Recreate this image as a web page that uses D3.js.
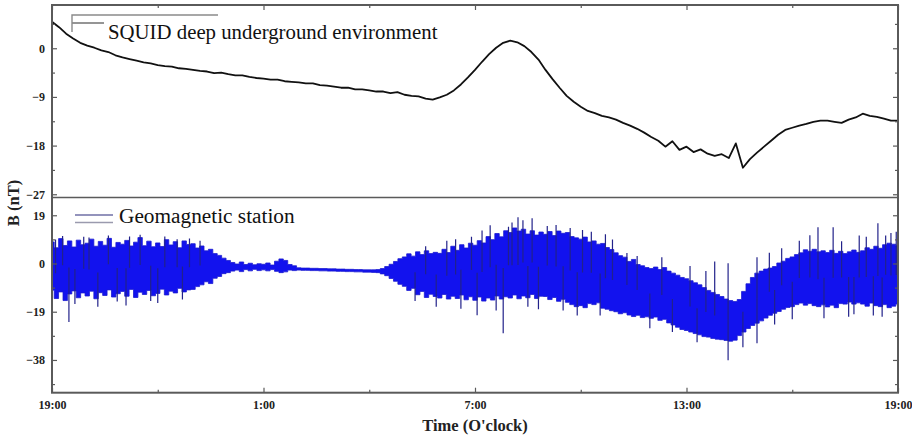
<!DOCTYPE html>
<html>
<head>
<meta charset="utf-8">
<script src="https://cdn.jsdelivr.net/npm/d3@7"></script>
<style>
  body { margin: 0; background: #fff; }
  svg { display: block; }
</style>
</head>
<body>
<svg id="chart" width="912" height="435"></svg>
<script>
// Time axis: hours elapsed since 19:00, spanning one full day
const timeTicks = [0, 6, 12, 18, 24];
const timeLabels = ["19:00", "1:00", "7:00", "13:00", "19:00"];

// Panel tick values (nT)
const squidTicks = [0, -9, -18, -27];
const geoTicks = [19, 0, -19, -38];

// SQUID record in the deep underground lab, one sample every 0.2 h (nT)
const squidStep = 0.2;
const squidValues = [
  4.9, 3.9, 2.7, 1.8, 1.0, 0.5, 0.1, -0.4, -0.7, -1.3,
  -1.7, -2.0, -2.3, -2.6, -2.8, -3.1, -3.3, -3.4, -3.7, -3.8,
  -4.0, -4.2, -4.3, -4.6, -4.5, -4.8, -5.0, -5.0, -5.3, -5.5,
  -5.6, -5.8, -5.8, -6.1, -6.2, -6.3, -6.5, -6.5, -6.8, -6.9,
  -7.1, -7.3, -7.3, -7.6, -7.6, -7.8, -8.0, -8.0, -8.3, -8.1,
  -8.6, -8.8, -8.9, -9.3, -9.5, -9.1, -8.6, -7.8, -6.7, -5.4,
  -4.0, -2.5, -1.1, 0.1, 1.0, 1.4, 1.1, 0.4, -0.7, -2.1,
  -4.0, -5.7, -7.3, -8.8, -9.9, -10.8, -11.6, -12.0, -12.5, -12.8,
  -13.2, -13.8, -14.3, -14.9, -15.6, -16.4, -17.1, -18.2, -17.2, -18.8,
  -18.2, -19.2, -18.7, -19.5, -19.9, -19.6, -20.3, -17.6, -22.1, -20.5,
  -19.3, -18.2, -17.1, -16.0, -15.1, -14.7, -14.3, -14.0, -13.6, -13.4,
  -13.4, -13.6, -13.8, -13.2, -12.8, -12.1, -12.5, -12.7, -13.0, -13.4,
  -13.4
];

// Geomagnetic station record: upper / lower envelope per 0.125 h bin (nT)
const geoStep = 0.125;
const geoHigh = [
  8.5, 6.2, 9.8, 7.1, 8.9, 6.5, 9.2, 7.4,
  8.0, 9.6, 6.8, 8.7, 7.2, 9.9, 6.4, 8.3,
  7.6, 9.1, 6.9, 8.4, 10.2, 7.0, 8.8, 6.6,
  8.1, 6.7, 9.4, 7.3, 8.6, 6.2, 8.9, 7.5,
  7.8, 6.1, 6.9, 5.0, 5.6, 3.9, 3.2, 2.1,
  1.2, 0.4, -0.2, 0.6, -0.4, 0.1, -0.5, -0.1,
  -0.3, 0.2, -0.6, 0.9, 1.8, 1.2, -0.4, -0.9,
  -1.7, -1.8, -1.8, -1.9, -1.9, -2.0, -2.0, -2.1,
  -2.1, -2.2, -2.2, -2.3, -2.3, -2.4, -2.4, -2.5,
  -2.5, -2.5, -2.4, -2.0, -1.2, -0.3, 0.8, 1.9,
  2.6, 3.8, 2.9, 4.6, 3.5, 5.0, 3.9, 4.4,
  4.0, 5.6, 4.3, 6.8, 5.2, 7.4, 6.1, 8.0,
  7.2, 9.0, 8.1, 10.6, 9.4, 11.8, 10.5, 12.9,
  12.2, 14.0, 12.8, 13.5, 11.6, 12.9, 11.2, 12.4,
  11.5, 12.6, 11.0, 12.8, 11.9, 12.2, 10.6, 10.1,
  9.6, 10.4, 8.5, 8.9, 7.6, 7.9, 6.3, 5.5,
  4.2, 3.1, 2.5, 0.8, 1.6, -0.4, -0.9, -1.6,
  -2.0, -1.4, -2.4, -1.6, -3.0, -3.8, -4.6, -5.5,
  -6.0, -6.8, -7.6, -8.4, -9.5, -10.6, -11.4, -12.2,
  -13.0, -14.0, -14.6, -15.0, -14.2, -11.0, -8.0, -5.5,
  -3.8, -3.0, -2.2, -1.8, -1.2, 0.2, 0.9, 2.0,
  2.6, 3.5, 4.2, 5.4, 4.8, 5.6, 4.6, 5.0,
  4.3, 5.2, 4.0, 4.8, 3.9, 4.6, 5.3, 4.4,
  5.0, 6.2, 5.6, 6.8, 6.0, 7.4, 8.0, 7.6,
  7.0
];
const geoLow = [
  -10.5, -13.8, -11.2, -14.6, -12.0, -10.8, -13.5, -11.6,
  -12.8, -10.9, -13.9, -11.5, -12.6, -10.4, -13.2, -11.9,
  -11.0, -12.9, -10.2, -13.4, -11.3, -12.2, -10.6, -12.7,
  -11.8, -10.1, -12.4, -10.9, -11.6, -9.8, -11.2, -10.4,
  -10.2, -9.1, -8.4, -7.2, -7.9, -5.8, -5.1, -4.0,
  -3.6, -3.0, -2.6, -3.2, -2.4, -2.9, -2.3, -2.8,
  -2.5, -2.9, -2.4, -3.1, -3.6, -3.3, -2.6, -2.8,
  -2.6, -2.7, -2.7, -2.8, -2.8, -2.9, -2.9, -3.0,
  -3.0, -3.1, -3.1, -3.2, -3.2, -3.3, -3.3, -3.4,
  -3.4, -3.5, -3.6, -4.1, -4.8, -5.9, -7.0, -8.2,
  -9.0, -10.6, -9.8, -12.3, -11.0, -13.4, -12.1, -13.0,
  -13.6, -12.2, -14.0, -12.9, -13.8, -12.4, -14.3, -13.1,
  -14.5, -13.2, -14.8, -13.6, -14.4, -12.8, -14.0, -13.1,
  -13.6, -12.4, -13.9, -12.8, -13.5, -12.2, -13.8, -12.9,
  -13.0, -14.2, -13.4, -14.9, -14.1, -15.3, -16.2, -17.0,
  -16.6, -17.4, -15.8, -16.2, -15.5, -17.6, -18.0, -18.6,
  -19.0, -19.8, -19.4, -20.3, -20.9, -20.4, -21.3, -21.0,
  -21.6, -21.1, -22.4, -22.0, -23.4, -24.2, -25.1, -26.0,
  -26.4, -27.0, -27.6, -28.1, -28.8, -29.0, -29.5, -29.8,
  -30.0, -30.3, -30.6, -30.2, -28.4, -27.0, -25.6, -24.4,
  -23.5, -22.6, -21.5, -20.4, -19.6, -18.9, -18.0, -17.3,
  -17.0, -16.2, -15.6, -16.4, -15.8, -16.6, -17.0, -16.3,
  -17.1, -16.4, -17.4, -15.8, -16.0, -15.2, -16.0, -15.5,
  -16.0, -16.8, -15.6, -16.6, -17.0, -16.2, -17.4, -16.8,
  -16.0
];

// Isolated excursions of the station record: [hour, peak value nT]
const geoSpikes = [
  [0.1, 9.5], [0.3, 10.8], [0.48, -23.0], [0.65, -16.0], [0.9, 10.5],
  [1.05, 10.2], [1.3, -17.0], [1.6, 11.0], [1.85, -15.0], [2.1, -16.5],
  [2.2, 10.6], [2.5, 11.3], [2.8, -14.8], [3.0, -15.6], [3.2, 10.6],
  [3.55, 9.6], [3.7, -14.2], [3.9, 9.8], [4.2, 9.0],
  [10.3, -14.8], [10.6, 6.8], [10.9, -17.0], [11.2, 9.0], [11.45, 9.6],
  [11.6, -17.8], [11.9, 10.5], [12.06, -20.4], [12.2, 13.0], [12.43, 15.1],
  [12.6, -18.5], [12.8, -27.5], [12.95, 14.5], [13.05, 16.2], [13.22, 18.2],
  [13.36, 17.0], [13.5, -17.0], [13.62, 17.8], [13.8, -18.0], [14.05, 14.8],
  [14.3, 15.2], [14.5, -18.5], [14.7, 14.0], [14.9, -20.5], [15.05, 13.2],
  [15.3, 12.5], [15.55, -20.5], [15.7, 11.5], [15.9, 9.5], [16.31, 4.1],
  [16.6, 3.0], [16.96, -25.5], [17.3, 2.5], [17.6, -27.0], [18.1, -1.0],
  [18.3, -31.0], [18.55, -3.0], [18.8, 0.8], [19.18, 0.1], [19.18, -38.1],
  [19.6, -33.0], [20.0, 2.5], [20.0, -31.4], [20.35, 4.2], [20.5, -24.0],
  [20.7, 6.0], [21.0, -22.0], [21.2, 9.0], [21.5, 11.1], [21.73, 14.3],
  [21.9, -21.6], [22.16, 14.3], [22.4, 8.8], [22.6, -21.0], [22.75, -20.0],
  [22.9, 11.0], [23.1, 10.5], [23.3, -20.5], [23.43, 15.9], [23.55, -21.0],
  [23.65, 11.0], [23.8, 12.0], [23.95, 12.5]
];

const squidLabel = "SQUID deep underground environment";
const geoLabel = "Geomagnetic station";

// ---------------------------------------------------------------------------
const svg = d3.select("#chart");
const left = 52, right = 898;
const topPanel = { top: 5, bottom: 197.5 };
const botPanel = { top: 197.5, bottom: 392.7 };
const frameColor = "#5a5a5a";
const serif = "'Liberation Serif', 'Times New Roman', serif";

const x = d3.scaleLinear().domain([0, 24]).range([left, right]);
const ySquid = d3.scaleLinear().domain([-27.6, 8]).range([topPanel.bottom, topPanel.top]);
const yGeo = d3.scaleLinear().domain([-50.9, 26]).range([botPanel.bottom, botPanel.top]);

svg.append("rect").attr("width", 912).attr("height", 435).attr("fill", "#fff");

// clip paths for the two panels
const defs = svg.append("defs");
defs.append("clipPath").attr("id", "clipTop").append("rect")
  .attr("x", left).attr("y", topPanel.top)
  .attr("width", right - left).attr("height", topPanel.bottom - topPanel.top);
defs.append("clipPath").attr("id", "clipBot").append("rect")
  .attr("x", left).attr("y", botPanel.top)
  .attr("width", right - left).attr("height", botPanel.bottom - botPanel.top);

// ---- Geomagnetic station band ----
const geoBins = geoHigh.map((h, i) => ({ t: i * geoStep, hi: h, lo: geoLow[i] }));
const gBot = svg.append("g").attr("clip-path", "url(#clipBot)");

gBot.append("path")
  .datum(geoBins)
  .attr("d", d3.area()
    .curve(d3.curveStep)
    .x(d => x(d.t))
    .y0(d => yGeo(d.lo))
    .y1(d => yGeo(d.hi)))
  .attr("fill", "#1212ee")
  .attr("stroke", "#1a1ad0")
  .attr("stroke-width", 0.8);

gBot.selectAll("line.spike")
  .data(geoSpikes)
  .join("line")
  .attr("class", "spike")
  .attr("x1", d => x(d[0]))
  .attr("x2", d => x(d[0]))
  .attr("y1", d => {
    const b = geoBins[Math.round(d[0] / geoStep)];
    return yGeo((b.hi + b.lo) / 2);
  })
  .attr("y2", d => yGeo(d[1]))
  .attr("stroke", "#22228a")
  .attr("stroke-width", 1.2);

// ---- SQUID trace ----
const squidPts = squidValues.map((v, i) => ({ t: i * squidStep, v }));
svg.append("g").attr("clip-path", "url(#clipTop)")
  .append("path")
  .datum(squidPts)
  .attr("d", d3.line().x(d => x(d.t)).y(d => ySquid(d.v)))
  .attr("fill", "none")
  .attr("stroke", "#111")
  .attr("stroke-width", 1.8)
  .attr("stroke-linejoin", "round");

// ---- Axes ----
function styleAxis(g) {
  g.select(".domain").remove();
  g.selectAll(".tick line").attr("stroke", frameColor).attr("stroke-width", 1.2);
  g.selectAll(".tick text")
    .attr("font-family", serif)
    .attr("font-weight", "bold")
    .attr("font-size", 12)
    .attr("fill", "#222");
}
const minor = (vals) => {
  const out = [];
  for (let i = 0; i < vals.length - 1; i++) out.push((vals[i] + vals[i + 1]) / 2);
  return out;
};
const squidMinor = minor(squidTicks).concat([4.5]);
const geoMinor = minor(geoTicks).concat([-47.5]);
const timeMinor = minor(timeTicks);

// left axes with labels
svg.append("g").attr("transform", `translate(${left},0)`)
  .call(d3.axisLeft(ySquid).tickValues(squidTicks).tickSize(-5).tickPadding(7))
  .call(styleAxis);
svg.append("g").attr("transform", `translate(${left},0)`)
  .call(d3.axisLeft(yGeo).tickValues(geoTicks).tickSize(-5).tickPadding(7))
  .call(styleAxis);
// minor left ticks
svg.append("g").attr("transform", `translate(${left},0)`)
  .call(d3.axisLeft(ySquid).tickValues(squidMinor).tickSize(-3).tickFormat(""))
  .call(styleAxis);
svg.append("g").attr("transform", `translate(${left},0)`)
  .call(d3.axisLeft(yGeo).tickValues(geoMinor).tickSize(-3).tickFormat(""))
  .call(styleAxis);
// right ticks
[[ySquid, squidTicks, 5], [ySquid, squidMinor, 3], [yGeo, geoTicks, 5], [yGeo, geoMinor, 3]]
  .forEach(([sc, vals, len]) => {
    svg.append("g").attr("transform", `translate(${right},0)`)
      .call(d3.axisRight(sc).tickValues(vals).tickSize(-len).tickFormat(""))
      .call(styleAxis);
  });

// bottom time axis
svg.append("g").attr("transform", `translate(0,${botPanel.bottom})`)
  .call(d3.axisBottom(x).tickValues(timeTicks).tickSize(-5).tickPadding(8)
    .tickFormat((d, i) => timeLabels[i]))
  .call(styleAxis);
svg.append("g").attr("transform", `translate(0,${botPanel.bottom})`)
  .call(d3.axisBottom(x).tickValues(timeMinor).tickSize(-3).tickFormat(""))
  .call(styleAxis);
// top ticks
svg.append("g").attr("transform", `translate(0,${topPanel.top})`)
  .call(d3.axisTop(x).tickValues(timeTicks).tickSize(-5).tickFormat(""))
  .call(styleAxis);
svg.append("g").attr("transform", `translate(0,${topPanel.top})`)
  .call(d3.axisTop(x).tickValues(timeMinor).tickSize(-3).tickFormat(""))
  .call(styleAxis);

// frames
svg.append("rect")
  .attr("x", left).attr("y", topPanel.top)
  .attr("width", right - left).attr("height", botPanel.bottom - topPanel.top)
  .attr("fill", "none").attr("stroke", frameColor).attr("stroke-width", 2);
svg.append("line")
  .attr("x1", left).attr("x2", right)
  .attr("y1", topPanel.bottom).attr("y2", topPanel.bottom)
  .attr("stroke", frameColor).attr("stroke-width", 1.6);

// axis titles
svg.append("text")
  .attr("x", (left + right) / 2).attr("y", 431)
  .attr("text-anchor", "middle")
  .attr("font-family", serif).attr("font-weight", "bold").attr("font-size", 16.5)
  .attr("fill", "#222")
  .text("Time (O'clock)");
svg.append("text")
  .attr("transform", "translate(19,203) rotate(-90)")
  .attr("text-anchor", "middle")
  .attr("font-family", serif).attr("font-weight", "bold").attr("font-size", 16.5)
  .attr("fill", "#222")
  .text("B (nT)");

// ---- Legends ----
const lg1 = svg.append("g");
lg1.append("path")
  .attr("d", "M218,15 H72 V32")
  .attr("fill", "none").attr("stroke", "#8a8a8a").attr("stroke-width", 1.4);
lg1.append("line")
  .attr("x1", 72).attr("x2", 104).attr("y1", 23).attr("y2", 23)
  .attr("stroke", "#8a8a8a").attr("stroke-width", 1.8);
lg1.append("text")
  .attr("x", 108).attr("y", 38.5)
  .attr("font-family", serif).attr("font-size", 20.8).attr("fill", "#111")
  .text(squidLabel);

const lg2 = svg.append("g");
lg2.append("line")
  .attr("x1", 75).attr("x2", 113).attr("y1", 215).attr("y2", 215)
  .attr("stroke", "#6f6fa6").attr("stroke-width", 1.6);
lg2.append("line")
  .attr("x1", 75).attr("x2", 113).attr("y1", 222.5).attr("y2", 222.5)
  .attr("stroke", "#9a9aae").attr("stroke-width", 1.6);
lg2.append("text")
  .attr("x", 119).attr("y", 223)
  .attr("font-family", serif).attr("font-size", 21.3).attr("fill", "#111")
  .text(geoLabel);
</script>
</body>
</html>
